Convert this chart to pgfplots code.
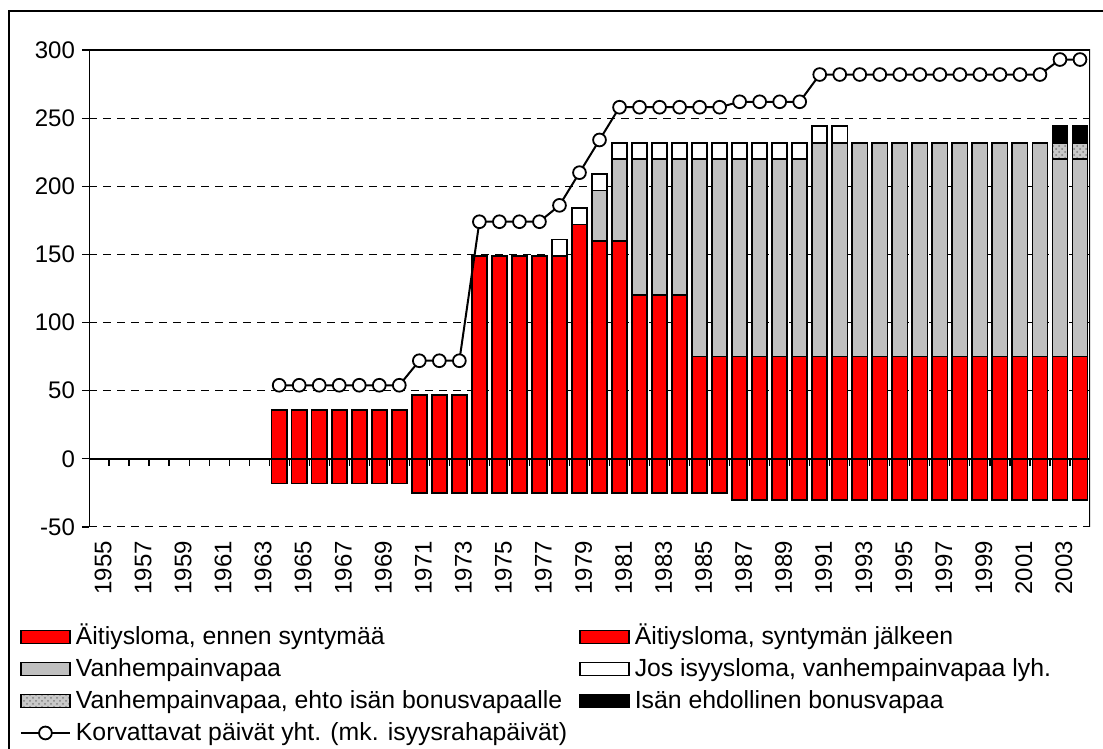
\documentclass[border=0pt]{standalone}
\usepackage{fontspec}
\setmainfont{Liberation Sans}
\usepackage{pgfplots}
\usepackage{pgfplotstable}
\pgfplotsset{compat=1.18}
\usetikzlibrary{patterns}
\definecolor{myred}{HTML}{FF0000}
\definecolor{mygray}{HTML}{C0C0C0}
\definecolor{myhatch}{HTML}{C8C8C8}

\pgfplotstableread{
x neg red gray white hatch blk line
9 -18 36 0 0 0 0 54
10 -18 36 0 0 0 0 54
11 -18 36 0 0 0 0 54
12 -18 36 0 0 0 0 54
13 -18 36 0 0 0 0 54
14 -18 36 0 0 0 0 54
15 -18 36 0 0 0 0 54
16 -25 47 0 0 0 0 72
17 -25 47 0 0 0 0 72
18 -25 47 0 0 0 0 72
19 -25 149 0 0 0 0 174
20 -25 149 0 0 0 0 174
21 -25 149 0 0 0 0 174
22 -25 149 0 0 0 0 174
23 -25 149 0 12 0 0 186
24 -25 172 0 12 0 0 210
25 -25 160 37 12 0 0 234
26 -25 160 60 12 0 0 258
27 -25 120 100 12 0 0 258
28 -25 120 100 12 0 0 258
29 -25 120 100 12 0 0 258
30 -25 75 145 12 0 0 258
31 -25 75 145 12 0 0 258
32 -30 75 145 12 0 0 262
33 -30 75 145 12 0 0 262
34 -30 75 145 12 0 0 262
35 -30 75 145 12 0 0 262
36 -30 75 157 12 0 0 282
37 -30 75 157 12 0 0 282
38 -30 75 157 0 0 0 282
39 -30 75 157 0 0 0 282
40 -30 75 157 0 0 0 282
41 -30 75 157 0 0 0 282
42 -30 75 157 0 0 0 282
43 -30 75 157 0 0 0 282
44 -30 75 157 0 0 0 282
45 -30 75 157 0 0 0 282
46 -30 75 157 0 0 0 282
47 -30 75 157 0 0 0 282
48 -30 75 145 0 12 12 293
49 -30 75 145 0 12 12 293
}\data

\pgfplotsset{
  common/.style={
    at={(44.5pt,111pt)}, anchor=south west,
    width=500.5pt, height=238.5pt, scale only axis,
    xmin=-0.5, xmax=49.5, ymin=-50, ymax=300,
  },
  barlegend/.style={legend image code/.code={\draw[##1] (0pt,-3.25pt) rectangle (24.5pt,3.25pt);}},
  linelegend/.style={legend image code/.code={\draw[mark repeat=2,mark phase=2,##1] plot coordinates {(0pt,0pt) (12.25pt,0pt) (24.5pt,0pt)};}},
  barstyle/.style={draw=black, line width=0.85pt},
  hatchstyle/.style={fill=myhatch, postaction={pattern=crosshatch dots, pattern color=gray}},
}

\begin{document}
\begin{tikzpicture}
\useasboundingbox (0,0) rectangle (551.5pt,374.5pt);
\draw[line width=0.6pt, black] (4.5pt,-2pt) -- (4.5pt,369pt) -- (553pt,369pt);

% axis A: grid, ticks, labels, negative bars
\begin{axis}[common,
  axis line style={draw=none},
  ytick={-50,0,50,100,150,200,250,300},
  xtick={0,2,...,48},
  xticklabels={1955,1957,1959,1961,1963,1965,1967,1969,1971,1973,1975,1977,1979,1981,1983,1985,1987,1989,1991,1993,1995,1997,1999,2001,2003},
  xtick style={draw=none},
  ytick style={black, line width=0.6pt},
  ytick pos=left, xtick pos=bottom,
  tick align=outside, major tick length=3.5pt,
  ymajorgrids, grid style={black, line width=0.5pt, dash pattern=on 4pt off 3pt},
  /pgf/number format/assume math mode=true,
  tick label style={font=\fontsize{12pt}{14pt}\selectfont},
  xticklabel style={rotate=90, anchor=east, yshift=-2pt},
  ybar, bar width=7.6pt,
]
\addplot[barstyle, fill=myred] table[x=x, y=neg] {\data};
\end{axis}

% axis B: stacked positive bars
\begin{axis}[common, hide axis,
  ybar stacked, bar width=7.6pt,
]
\addplot[barstyle, fill=myred] table[x=x, y=red] {\data};
\addplot[barstyle, fill=mygray] table[x=x, y=gray] {\data};
\addplot[barstyle, fill=white] table[x=x, y=white] {\data};
\addplot[barstyle, hatchstyle] table[x=x, y=hatch] {\data};
\addplot[barstyle, fill=black] table[x=x, y=blk] {\data};
\end{axis}

% axis C: frame, zero line, line series, legend
\begin{axis}[common, hide axis,
  legend columns=2, legend cell align=left,
  legend style={draw=none, fill=none, at={(axis description cs:-0.069,-0.197)}, anchor=north west,
    inner sep=0pt, outer sep=0pt, row sep=0pt,
    font=\fontsize{12.4pt}{14pt}\selectfont,
    nodes={inner sep=1pt, text height=11pt, text depth=3pt},
    /tikz/every odd column/.append style={column sep=1.5pt},
    /tikz/every even column/.append style={column sep=5pt}},
]
\addlegendimage{barlegend, barstyle, fill=myred}
\addlegendimage{barlegend, barstyle, fill=myred}
\addlegendimage{barlegend, barstyle, fill=mygray}
\addlegendimage{barlegend, barstyle, fill=white}
\addlegendimage{barlegend, barstyle, hatchstyle}
\addlegendimage{barlegend, barstyle, fill=black}
\draw[black, line width=0.6pt] (axis cs:-0.5,-50) -- (axis cs:-0.5,300) -- (axis cs:49.5,300) -- (axis cs:49.5,-50);
\draw[black, line width=0.9pt] (axis cs:-0.5,0) -- (axis cs:49.5,0);
\pgfplotsinvokeforeach{0.5,1.5,...,48.5}{\draw[black, line width=0.6pt] (axis cs:#1,0) -- ++(0pt,-3.5pt);}
\addplot[sharp plot, black, line width=1pt, mark=*, mark size=3.2pt, mark options={fill=white, draw=black, line width=0.9pt}, linelegend]
  table[x=x, y=line] {\data};
\legend{{Äitiysloma, ennen syntymää},{Äitiysloma, syntymän jälkeen},Vanhempainvapaa,{Jos isyysloma, vanhempainvapaa lyh.},{Vanhempainvapaa, ehto isän bonusvapaalle},Isän ehdollinen bonusvapaa,{Korvattavat päivät yht. (mk. isyysrahapäivät)}}
\end{axis}
\end{tikzpicture}
\end{document}
